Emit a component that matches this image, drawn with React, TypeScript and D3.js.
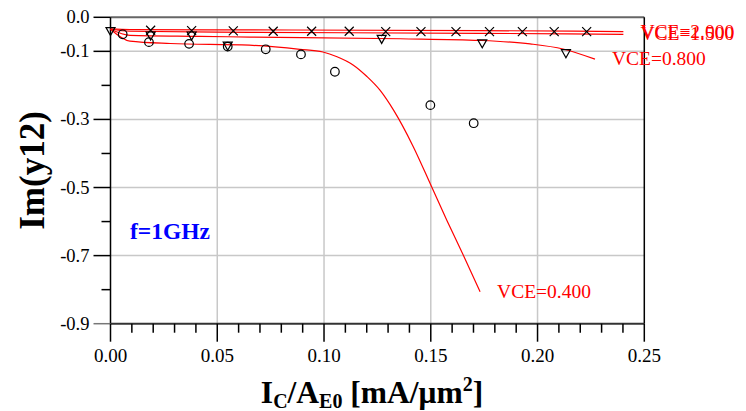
import React from "react";
import * as d3 from "d3";

// ---- data ----
const xTicksMajor = [0, 0.05, 0.1, 0.15, 0.2, 0.25];
const xTickLabels = ["0.00", "0.05", "0.10", "0.15", "0.20", "0.25"];
const yTicksMajor = [0, -0.1, -0.3, -0.5, -0.7, -0.9];
const yTickLabels = ["0.0", "-0.1", "-0.3", "-0.5", "-0.7", "-0.9"];
const yTicksMinor = [-0.2, -0.4, -0.6, -0.8];
const xGrid = [0.05, 0.1, 0.15, 0.2];
const yGrid = [-0.1, -0.3, -0.5, -0.7];

// simulated curves
const simX04 = [0, 0.0091, 0.028, 0.065, 0.0887, 0.0995, 0.1061, 0.1136, 0.1201, 0.1262, 0.1325, 0.1418, 0.1504, 0.1575, 0.1652, 0.1731];
const simY04 = [-0.035, -0.07, -0.077, -0.082, -0.094, -0.102, -0.116, -0.14, -0.174, -0.214, -0.272, -0.38, -0.498, -0.596, -0.698, -0.806];
const simX08 = [0, 0.0091, 0.042, 0.0653, 0.1356, 0.173, 0.1965, 0.2119, 0.2269];
const simY08 = [-0.035, -0.053, -0.056, -0.058, -0.063, -0.068, -0.078, -0.093, -0.123];
const simX15 = [0, 0.0091, 0.065, 0.173, 0.2402];
const simY15 = [-0.035, -0.041, -0.044, -0.047, -0.05];
const simX20 = [0, 0.0091, 0.065, 0.173, 0.2402];
const simY20 = [-0.034, -0.036, -0.037, -0.039, -0.042];
const curveLabels = ["VCE=0.400", "VCE=0.800", "VCE=1.500", "VCE=2.000"];

// measured points
const measX20 = [0.0188, 0.038, 0.0575, 0.0762, 0.0942, 0.1118, 0.1289, 0.1454, 0.1618, 0.1775, 0.1929, 0.2078, 0.223];
const measY20 = [-0.038, -0.039, -0.04, -0.041, -0.041, -0.041, -0.042, -0.042, -0.042, -0.042, -0.042, -0.042, -0.042];
const measX08 = [0, 0.0188, 0.038, 0.0549, 0.127, 0.1741, 0.2133];
const measY08 = [-0.039, -0.052, -0.052, -0.082, -0.062, -0.075, -0.104];
const measX04 = [0.0057, 0.018, 0.0368, 0.0549, 0.0727, 0.0892, 0.1051, 0.1498, 0.1701];
const measY04 = [-0.05, -0.073, -0.078, -0.086, -0.094, -0.109, -0.16, -0.258, -0.311];

const W = 746, H = 411;
const M = { left: 110.5, right: 644.3, top: 17.3, bottom: 323.7 };
const FONT = "'Liberation Serif', 'Times New Roman', serif";

export default function App() {
  const x = d3.scaleLinear().domain([0, 0.25]).range([M.left, M.right]);
  const y = d3.scaleLinear().domain([-0.9, 0]).range([M.bottom, M.top]);
  const line = d3.line<[number, number]>().x(d => x(d[0])).y(d => y(d[1])).curve(d3.curveMonotoneX);
  const zip = (a: number[], b: number[]) => a.map((v, i) => [v, b[i]] as [number, number]);

  const sims = [
    { xs: simX04, ys: simY04, label: curveLabels[0] },
    { xs: simX08, ys: simY08, label: curveLabels[1] },
    { xs: simX15, ys: simY15, label: curveLabels[2] },
    { xs: simX20, ys: simY20, label: curveLabels[3] },
  ];
  const xMinor = d3.range(0, 0.2501, 0.01).filter(v => !xTicksMajor.some(t => Math.abs(t - v) < 1e-6));

  return (
    <svg width={W} height={H} style={{ position: "absolute", left: 0, top: 0, background: "#fff" }} fontFamily={FONT}>
      {/* grid */}
      {xGrid.map(v => <line key={"gx" + v} x1={x(v)} x2={x(v)} y1={M.top} y2={M.bottom} stroke="#c8c8c8" strokeWidth={1.5} />)}
      {yGrid.map(v => <line key={"gy" + v} x1={M.left} x2={M.right} y1={y(v)} y2={y(v)} stroke="#c8c8c8" strokeWidth={1.5} />)}
      {/* frame */}
      <line x1={M.left} x2={M.right} y1={M.top} y2={M.top} stroke="#666" strokeWidth={2} />
      <line x1={M.right} x2={M.right} y1={M.top} y2={M.bottom} stroke="#000" strokeWidth={1.5} />
      <line x1={M.left} x2={M.left} y1={M.top} y2={M.bottom} stroke="#000" strokeWidth={1.5} />
      <line x1={M.left} x2={M.right} y1={M.bottom} y2={M.bottom} stroke="#333" strokeWidth={2} />
      {/* y ticks */}
      {yTicksMajor.map((v, i) => (
        <g key={"yt" + v}>
          <line x1={M.left - 17} x2={M.left} y1={y(v)} y2={y(v)} stroke={i === yTicksMajor.length - 1 ? "#777" : "#000"} strokeWidth={1.5} />
          <text x={M.left - 21} y={y(v) + 6} textAnchor="end" fontSize={18.5} fill="#000">{yTickLabels[i]}</text>
        </g>
      ))}
      {yTicksMinor.map(v => <line key={"ym" + v} x1={M.left - 9} x2={M.left} y1={y(v)} y2={y(v)} stroke="#000" strokeWidth={1.5} />)}
      {/* x ticks */}
      {xTicksMajor.map((v, i) => (
        <g key={"xt" + v}>
          <line x1={x(v)} x2={x(v)} y1={M.bottom} y2={M.bottom + 18} stroke="#000" strokeWidth={1.5} />
          <text x={x(v)} y={362} textAnchor="middle" fontSize={19} fill="#000">{xTickLabels[i]}</text>
        </g>
      ))}
      {xMinor.map(v => <line key={"xm" + v} x1={x(v)} x2={x(v)} y1={M.bottom} y2={M.bottom + 9} stroke="#000" strokeWidth={1.5} />)}
      {/* curves */}
      {sims.map(s => {
        const pts = zip(s.xs, s.ys);
        const last = pts[pts.length - 1];
        return (
          <g key={s.label}>
            <path d={line(pts) || ""} fill="none" stroke="#ff0000" strokeWidth={1.2} />
            <text x={x(last[0]) + 17} y={y(last[1]) + 6} fontSize={19.5} fill="#ff0000">{s.label}</text>
          </g>
        );
      })}
      {/* measured: crosses */}
      {zip(measX20, measY20).map((p, i) => (
        <path key={"c" + i} d={`M${x(p[0]) - 4.5},${y(p[1]) - 4.5}L${x(p[0]) + 4.5},${y(p[1]) + 4.5}M${x(p[0]) - 4.5},${y(p[1]) + 4.5}L${x(p[0]) + 4.5},${y(p[1]) - 4.5}`} stroke="#000" strokeWidth={1.2} fill="none" />
      ))}
      {/* triangles */}
      {zip(measX08, measY08).map((p, i) => (
        <path key={"t" + i} d={`M${x(p[0]) - 4.5},${y(p[1]) - 3}L${x(p[0]) + 4.5},${y(p[1]) - 3}L${x(p[0])},${y(p[1]) + 5}Z`} stroke="#000" strokeWidth={1.2} fill="none" />
      ))}
      {/* circles */}
      {zip(measX04, measY04).map((p, i) => (
        <circle key={"o" + i} cx={x(p[0])} cy={y(p[1])} r={4.3} stroke="#000" strokeWidth={1.2} fill="none" />
      ))}
      {/* annotation */}
      <text x={130} y={239} fontSize={23.5} fontWeight="bold" fill="#0000ff">f=1GHz</text>
      {/* axis titles */}
      <text x={372} y={403} textAnchor="middle" fontSize={31.5} fontWeight="bold" fill="#000">
        I<tspan fontSize={20} dy={5}>C</tspan><tspan dy={-5}>/A</tspan><tspan fontSize={20} dy={5}>E0</tspan><tspan dy={-5}> [mA/μm</tspan><tspan fontSize={20} dy={-12}>2</tspan><tspan dy={12}>]</tspan>
      </text>
      <text transform={`translate(44,${(M.top + M.bottom) / 2}) rotate(-90)`} textAnchor="middle" fontSize={35} fontWeight="bold" fill="#000">Im(y12)</text>
    </svg>
  );
}
